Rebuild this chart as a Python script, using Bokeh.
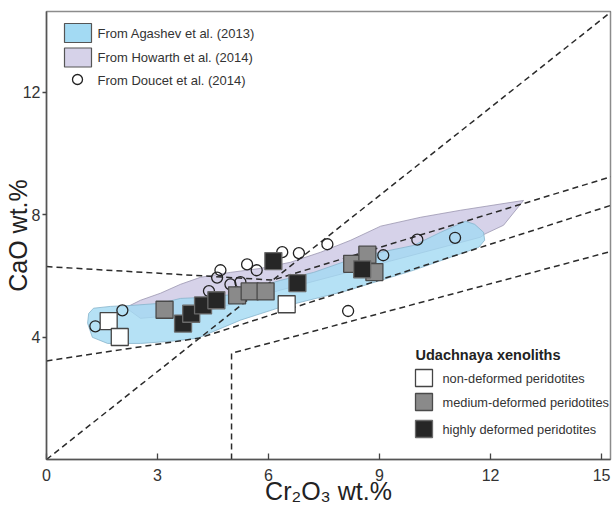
from bokeh.plotting import figure
from bokeh.models import Range1d, FixedTicker
from bokeh.core.properties import value
from bokeh.embed import file_html
from bokeh.resources import INLINE

# Garnet Cr2O3 vs CaO (wt.%) of Udachnaya peridotite xenoliths, by deformation grade
non_def_cr = [1.68, 1.98, 6.49]
non_def_ca = [4.52, 4.00, 5.07]
med_def_cr = [3.19, 5.15, 5.49, 5.92, 8.26, 8.67, 8.86]
med_def_ca = [4.89, 5.36, 5.49, 5.49, 6.39, 6.69, 6.12]
high_def_cr = [3.69, 3.91, 4.23, 4.59, 6.13, 6.78, 8.53]
high_def_ca = [4.44, 4.76, 5.03, 5.20, 6.48, 5.76, 6.21]

# Doucet et al. (2014) garnets
doucet_cr = [1.32, 2.05, 4.39, 4.61, 4.70, 4.97, 5.24, 5.42, 5.68, 6.37,
             6.82, 7.59, 9.10, 10.02, 11.04, 8.15]
doucet_ca = [4.35, 4.87, 5.50, 5.94, 6.18, 5.72, 5.79, 6.37, 6.18, 6.77,
             6.74, 7.03, 6.67, 7.18, 7.24, 4.85]

# Field of Agashev et al. (2013)
agashev_cr = [1.11, 1.14, 1.27, 1.73, 2.27, 3.08, 3.62, 4.35, 5.05, 5.51, 6.32,
              7.22, 8.14, 9.03, 9.92, 10.65, 11.32, 11.57, 11.81, 11.84, 11.68,
              9.92, 8.14, 6.32, 5.24, 4.08, 3.35, 2.54, 1.65, 1.24]
agashev_ca = [4.45, 4.77, 4.94, 5.00, 5.03, 5.10, 5.26, 5.30, 5.39, 5.56, 5.85,
              6.11, 6.50, 6.77, 6.99, 7.42, 7.78, 7.68, 7.42, 7.16, 6.93,
              6.18, 5.52, 4.97, 4.55, 3.96, 3.86, 3.79, 3.79, 3.99]

# Field of Howarth et al. (2014)
howarth_cr = [2.14, 2.54, 3.08, 3.62, 4.16, 4.97, 5.78, 6.59, 7.41, 8.22, 9.03,
              10.11, 11.19, 12.89, 12.35, 11.84, 11.73, 6.32, 4.16, 2.54]
howarth_ca = [4.96, 5.20, 5.43, 5.72, 5.95, 6.11, 6.24, 6.44, 6.77, 7.16, 7.62,
              7.91, 8.14, 8.46, 7.65, 7.36, 7.26, 5.53, 4.78, 4.61]

# Classification boundaries
diag_cr = [0.0, 15.3]
diag_ca = [0.0, 14.66]
upper_cr = [0.0, 6.12, 15.3]
upper_ca = [6.30, 5.86, 9.25]
lower_cr = [0.0, 4.14, 15.3]
lower_ca = [3.22, 3.97, 8.32]
wehrl_cr = [5.0, 5.0, 15.3]
wehrl_ca = [0.0, 3.47, 6.81]

x_ticks = [0, 3, 6, 9, 12, 15]
y_ticks = [4, 8, 12]

X_END, Y_END = 15.24, 14.63
FONT = "Liberation Sans"

p = figure(width=612, height=508, output_backend="svg", toolbar_location=None,
           x_range=Range1d(0, X_END), y_range=Range1d(0, Y_END),
           min_border_left=46, min_border_right=2, min_border_top=11,
           min_border_bottom=49)
p.grid.visible = False
p.outline_line_color = "#8c8c8c"
p.outline_line_width = 1.5
p.background_fill_color = "white"
p.border_fill_color = "white"

# frame pixel -> data helpers for the key
FL, FR, FT, FB = 46, 610, 11, 459
def kx(px):
    return (px - FL) * X_END / (FR - FL)
def ky(py):
    return (FB - py) * Y_END / (FB - FT)

# fields
p.patch(howarth_cr, howarth_ca, fill_color="#d6d2e9", line_color="#9a96b0",
        line_width=0.8)
p.patch(agashev_cr, agashev_ca, fill_color="#a3daf3", fill_alpha=0.8,
        line_color="#86b4cc", line_width=0.8)

# boundaries
for xs, ys in [(diag_cr, diag_ca), (upper_cr, upper_ca), (lower_cr, lower_ca),
               (wehrl_cr, wehrl_ca)]:
    p.line(xs, ys, line_color="#2b2b2b", line_width=1.5, line_dash="6 4")

# samples
p.scatter(doucet_cr, doucet_ca, marker="circle", size=11, fill_color=None,
          line_color="#222222", line_width=1.3)
p.scatter(non_def_cr, non_def_ca, marker="square", size=17, fill_color="white",
          line_color="#444444", line_width=1.3)
p.scatter(med_def_cr, med_def_ca, marker="square", size=17, fill_color="#8a8a8a",
          line_color="#4a4a4a", line_width=1.3)
p.scatter(high_def_cr, high_def_ca, marker="square", size=17, fill_color="#262626",
          line_color="#6a6a6a", line_width=1.3)

# key: literature fields
p.rect([kx(77.5)], [ky(32.5)], width=27, height=19, width_units="screen",
       height_units="screen", fill_color="#a3daf3", line_color="#555555",
       line_width=1.2)
p.rect([kx(77.5)], [ky(57)], width=27, height=19, width_units="screen",
       height_units="screen", fill_color="#d6d2e9", line_color="#555555",
       line_width=1.2)
p.scatter([kx(77)], [ky(79)], marker="circle", size=10, fill_color=None,
          line_color="#222222", line_width=1.3)
p.text([kx(97)] * 3, [ky(33), ky(57), ky(80)],
       text=["From Agashev et al. (2013)", "From Howarth et al. (2014)",
             "From Doucet et al. (2014)"],
       text_font=value(FONT), text_font_size="13px", text_color="#333333",
       text_baseline="middle", text_align="left")

# key: Udachnaya xenoliths
p.text([kx(415)], [ky(354)], text=["Udachnaya xenoliths"], text_font=value(FONT),
       text_font_size="14.5px", text_font_style="bold", text_color="#222222",
       text_baseline="middle", text_align="left")
for py, fc, lc in [(377.5, "white", "#444444"), (401.5, "#8a8a8a", "#4a4a4a"),
                   (428.5, "#262626", "#6a6a6a")]:
    p.scatter([kx(423.5)], [ky(py)], marker="square", size=17, fill_color=fc,
              line_color=lc, line_width=1.3)
p.text([kx(442)] * 3, [ky(378), ky(402), ky(428.5)],
       text=["non-deformed peridotites", "medium-deformed peridotites",
             "highly deformed peridotites"],
       text_font=value(FONT), text_font_size="12.8px", text_color="#333333",
       text_baseline="middle", text_align="left")

# axes
for ax in (p.xaxis[0], p.yaxis[0]):
    ax.axis_line_color = "#555555"
    ax.axis_line_width = 1.5
    ax.major_tick_line_color = "#444444"
    ax.major_tick_line_width = 1.3
    ax.minor_tick_line_color = None
    ax.major_label_text_font = FONT
    ax.major_label_text_font_size = "16px"
    ax.major_label_text_color = "#333333"
    ax.axis_label_text_font = FONT
    ax.axis_label_text_font_size = "25px"
    ax.axis_label_text_font_style = "normal"
    ax.axis_label_text_color = "#222222"

p.xaxis.ticker = FixedTicker(ticks=x_ticks)
p.xaxis.major_tick_in = 6
p.xaxis.major_tick_out = 0
p.xaxis.major_label_standoff = 9
p.xaxis.axis_label = "Cr\u2082O\u2083 wt.%"
p.xaxis.axis_label_standoff = -7

p.yaxis.ticker = FixedTicker(ticks=y_ticks)
p.yaxis.major_tick_in = 0
p.yaxis.major_tick_out = 4
p.yaxis.major_label_standoff = 2
p.yaxis.axis_label = "CaO wt.%"
p.yaxis.axis_label_standoff = -12

open("out.html", "w").write(file_html(p, INLINE))
